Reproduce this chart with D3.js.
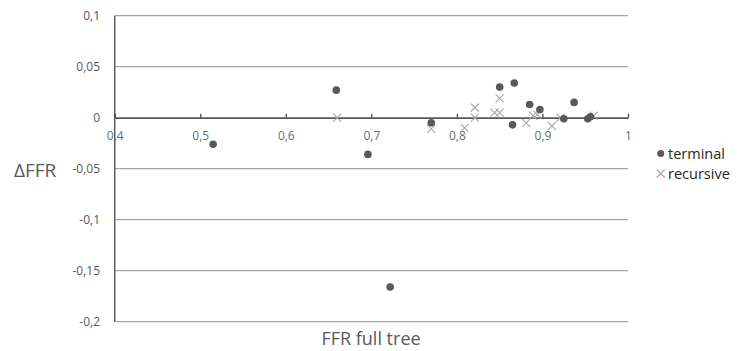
<!DOCTYPE html>
<html><head><meta charset="utf-8">
<script src="https://cdn.jsdelivr.net/npm/d3@7"></script>
<style>body{margin:0;background:#fff}svg{display:block}</style>
</head><body><svg id="c" width="752" height="351"></svg>
<script>
const terminal = [[0.515,-0.026],[0.659,0.027],[0.696,-0.036],[0.722,-0.166],[0.770,-0.005],[0.850,0.030],[0.865,-0.007],[0.867,0.034],[0.885,0.013],[0.897,0.008],[0.925,-0.001],[0.937,0.015],[0.953,-0.001],[0.956,0.001]];
const recursive = [[0.660,0],[0.770,-0.011],[0.809,-0.010],[0.821,0.010],[0.821,0],[0.844,0.005],[0.850,0.005],[0.850,0.019],[0.881,-0.005],[0.889,0.002],[0.894,0.003],[0.911,-0.008],[0.921,0],[0.960,0.002]];
const xTicks = [0.4,0.5,0.6,0.7,0.8,0.9,1];
const yTicks = [0.1,0.05,0,-0.05,-0.1,-0.15,-0.2];
const seriesNames = ["terminal","recursive"];
const xTitle = "FFR full tree", yTitle = "ΔFFR";

const fmt = v => v===0 ? "0" : String(+v.toFixed(2)).replace(".",",");

const svg = d3.select("#c");
const font = "'Open Sans', 'DejaVu Sans', sans-serif";
const x = d3.scaleLinear().domain([0.4,1]).range([114.7,628]);
const y = d3.scaleLinear().domain([-0.2,0.1]).range([321.7,15.7]);

// gridlines
svg.append("g").selectAll("line").data(yTicks.filter(d=>d!==0)).join("line")
  .attr("x1",x(0.4)).attr("x2",x(1)).attr("y1",d=>y(d)).attr("y2",d=>y(d))
  .attr("stroke","#a6a6a6").attr("stroke-width",1.3);

// y tick labels
svg.append("g").selectAll("text").data(yTicks).join("text")
  .attr("x",100).attr("y",d=>y(d)).attr("dy","0.35em").attr("text-anchor","end")
  .attr("font-family",font).attr("font-size",12).attr("fill","#595959").text(fmt);

// y axis line
svg.append("line").attr("x1",x(0.4)).attr("x2",x(0.4)).attr("y1",y(0.1)).attr("y2",y(-0.2))
  .attr("stroke","#595959").attr("stroke-width",1.5);

// x axis at zero
const xa = svg.append("g").attr("transform",`translate(0,${y(0)})`)
  .call(d3.axisBottom(x).tickValues(xTicks).tickFormat(fmt).tickSizeInner(-4).tickSizeOuter(0).tickPadding(14));
xa.select(".domain").attr("stroke","#595959").attr("stroke-width",1.8);
xa.selectAll(".tick line").attr("stroke","#404040").attr("stroke-width",1.2);
xa.selectAll(".tick text").attr("font-family",font).attr("font-size",12).attr("fill","#5f6f85");

// recursive crosses
const cs = 4;
svg.append("g").selectAll("path").data(recursive).join("path")
  .attr("d",d=>{const cx=x(d[0]),cy=y(d[1]);return `M${cx-cs},${cy-cs}L${cx+cs},${cy+cs}M${cx-cs},${cy+cs}L${cx+cs},${cy-cs}`;})
  .attr("stroke","#a6a6a6").attr("stroke-width",1.1).attr("fill","none");

// terminal dots
svg.append("g").selectAll("circle").data(terminal).join("circle")
  .attr("cx",d=>x(d[0])).attr("cy",d=>y(d[1])).attr("r",3.8).attr("fill","#595959");

// axis titles
svg.append("text").attr("x",371).attr("y",345).attr("text-anchor","middle")
  .attr("font-family",font).attr("font-size",18).attr("fill","#595959").text(xTitle);
svg.append("text").attr("x",14).attr("y",170).attr("dy","0.35em").attr("text-anchor","start")
  .attr("font-family",font).attr("font-size",19).attr("fill","#595959").text(yTitle);

// legend
const lg = svg.append("g");
lg.append("circle").attr("cx",660.7).attr("cy",153.5).attr("r",3.5).attr("fill","#595959");
const lx=660.7, ly=173.5;
lg.append("path").attr("d",`M${lx-cs},${ly-cs}L${lx+cs},${ly+cs}M${lx-cs},${ly+cs}L${lx+cs},${ly-cs}`)
  .attr("stroke","#a6a6a6").attr("stroke-width",1.1);
lg.selectAll("text").data(seriesNames).join("text")
  .attr("x",668).attr("y",(d,i)=>153.5+i*20).attr("dy","0.35em")
  .attr("font-family",font).attr("font-size",14.5).attr("fill","#262626").text(d=>d);
</script></body></html>
